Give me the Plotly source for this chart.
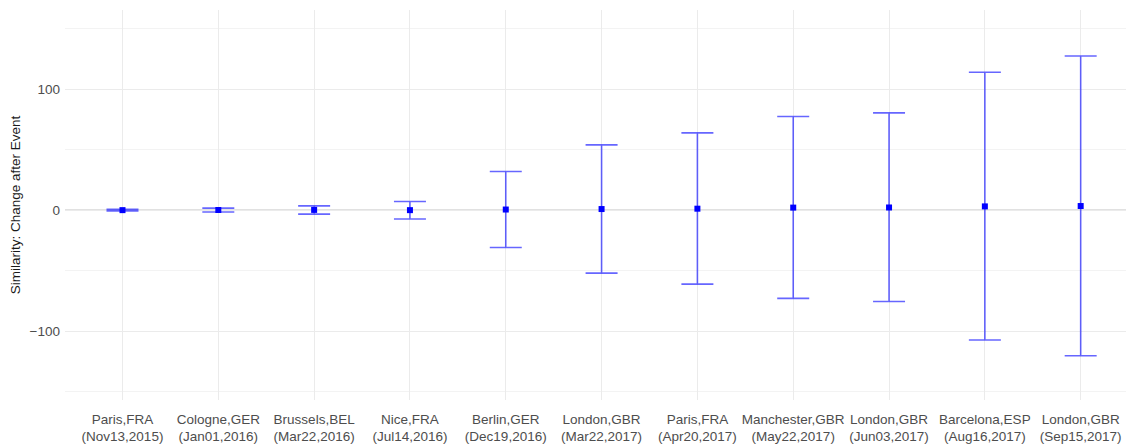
import plotly.graph_objects as go

events = ["Paris,FRA<br>(Nov13,2015)", "Cologne,GER<br>(Jan01,2016)", "Brussels,BEL<br>(Mar22,2016)",
          "Nice,FRA<br>(Jul14,2016)", "Berlin,GER<br>(Dec19,2016)", "London,GBR<br>(Mar22,2017)",
          "Paris,FRA<br>(Apr20,2017)", "Manchester,GBR<br>(May22,2017)", "London,GBR<br>(Jun03,2017)",
          "Barcelona,ESP<br>(Aug16,2017)", "London,GBR<br>(Sep15,2017)"]
estimate = [0.0, 0.1, 0.2, 0.0, 0.5, 0.9, 1.2, 2.1, 2.2, 3.1, 3.4]
lower = [-0.6, -1.6, -3.3, -7.3, -30.9, -52.1, -61.2, -73.0, -75.5, -107.4, -120.4]
upper = [0.6, 1.7, 3.5, 7.1, 31.9, 54.0, 63.9, 77.4, 80.4, 114.0, 127.5]

idx = list(range(len(events)))
err_plus = [u - e for u, e in zip(upper, estimate)]
err_minus = [e - l for l, e in zip(lower, estimate)]

fig = go.Figure()
fig.add_trace(go.Scatter(
    x=idx, y=estimate, mode="markers",
    marker=dict(symbol="square", size=6, color="#0000ff"),
    error_y=dict(type="data", symmetric=False, array=err_plus, arrayminus=err_minus,
                 color="rgba(0,0,255,0.6)", thickness=1.6, width=16),
    showlegend=False,
))
fig.add_hline(y=0, line=dict(color="#c4c4c4", width=1.2), layer="below")

fig.update_layout(
    width=1134, height=444,
    margin=dict(l=57, r=0, t=2, b=52),
    plot_bgcolor="white", paper_bgcolor="white",
    font=dict(family="Liberation Sans, Arial, sans-serif", color="#4d4d4d", size=13.5),
    xaxis=dict(tickmode="array", tickvals=idx, ticktext=events, range=[-0.6, 10.64],
               showgrid=True, gridcolor="#ebebeb", gridwidth=1, zeroline=False,
               ticks="", ticklabelstandoff=9,
               tickfont=dict(size=13.5, color="#4d4d4d"), automargin=False),
    yaxis=dict(range=[-157, 165.5], tickvals=[-100, 0, 100], showgrid=True,
               gridcolor="#ebebeb", gridwidth=1.2, zeroline=False, ticks="",
               ticklabelstandoff=4,
               minor=dict(tickvals=[-150, -50, 50, 150], showgrid=True, gridcolor="#f3f3f3", gridwidth=1),
               tickfont=dict(size=13.5, color="#4d4d4d"), automargin=False,
               title=dict(text="Similarity: Change after Event", font=dict(size=13.5, color="#1a1a1a"), standoff=8)),
)

fig.write_html("out.html")
